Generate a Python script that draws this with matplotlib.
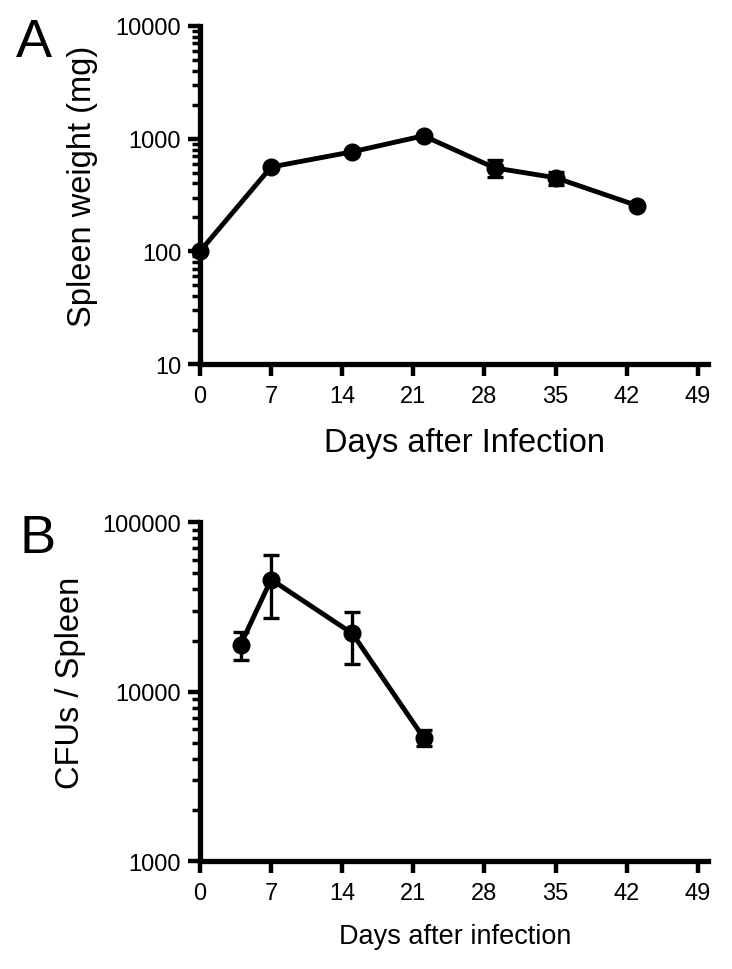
import numpy as np
import matplotlib
matplotlib.use("Agg")
import matplotlib.pyplot as plt
from matplotlib.ticker import LogLocator, NullFormatter

plt.rcParams['font.family'] = ['Liberation Sans', 'DejaVu Sans']

# Panel A: spleen weight
days_a = [0, 7, 15, 22, 29, 35, 43]
weight = [100, 560, 765, 1060, 550, 450, 255]
weight_err = [0, 0, 0, 0, 95, 60, 0]

# Panel B: CFUs per spleen
days_b = [4, 7, 15, 22]
cfu = [18900, 45800, 22000, 5350]
cfu_err = [3600, 18500, 7500, 550]

xticks = [0, 7, 14, 21, 28, 35, 42, 49]


def style_axis(ax, ylo, yhi):
    ax.set_yscale('log')
    ax.set_xlim(0, 50)
    ax.set_ylim(ylo, yhi)
    ax.set_xticks(xticks)
    ax.set_xticklabels([str(t) for t in xticks])
    decades = [10 ** k for k in range(int(np.log10(ylo)), int(np.log10(yhi)) + 1)]
    ax.set_yticks(decades)
    ax.set_yticklabels([str(d) for d in decades])
    ax.yaxis.set_minor_locator(LogLocator(base=10, subs=np.arange(2, 10)))
    ax.yaxis.set_minor_formatter(NullFormatter())
    for s in ['top', 'right']:
        ax.spines[s].set_visible(False)
    for s in ['left', 'bottom']:
        ax.spines[s].set_linewidth(3.8)
    ax.tick_params(which='major', length=8.5, width=3.2, labelsize=17, pad=5)
    ax.tick_params(axis='x', which='major', pad=6.5)
    ax.tick_params(which='minor', length=5.5, width=2.5)
    ax.tick_params(axis='x', which='minor', bottom=False)


def draw_series(ax, x, y, err):
    x, y, err = np.asarray(x), np.asarray(y), np.asarray(err)
    has = err > 0
    ax.errorbar(x[has], y[has], yerr=err[has], fmt='none', ecolor='black',
                elinewidth=2.4, capsize=5.5, capthick=2.4, clip_on=False, zorder=4)
    ax.plot(x, y, color='black', lw=3.5, marker='o', ms=12, clip_on=False, zorder=5)


fig = plt.figure(figsize=(7.32, 9.70), dpi=100)

axA = fig.add_axes([0.2732, 0.6237, 0.694, 0.3485])
style_axis(axA, 10, 10000)
draw_series(axA, days_a, weight, weight_err)
axA.set_ylabel('Spleen weight (mg)', fontsize=23.5)
axA.yaxis.set_label_coords(-0.20, 0.527)
axA.set_xlabel('Days after Infection', fontsize=23.5, va='top')
axA.xaxis.set_label_coords(0.52, -0.186)

axB = fig.add_axes([0.2732, 0.1113, 0.694, 0.3495])
style_axis(axB, 1000, 100000)
draw_series(axB, days_b, cfu, cfu_err)
axB.set_ylabel('CFUs / Spleen', fontsize=23.5)
axB.yaxis.set_label_coords(-0.225, 0.528)
axB.set_xlabel('Days after infection', fontsize=19.5, va='top')
axB.xaxis.set_label_coords(0.502, -0.183)

fig.text(0.022, 0.941, 'A', fontsize=39, ha='left', va='baseline')
fig.text(0.026, 0.430, 'B', fontsize=39, ha='left', va='baseline')

fig.savefig('out.png', dpi=100)
